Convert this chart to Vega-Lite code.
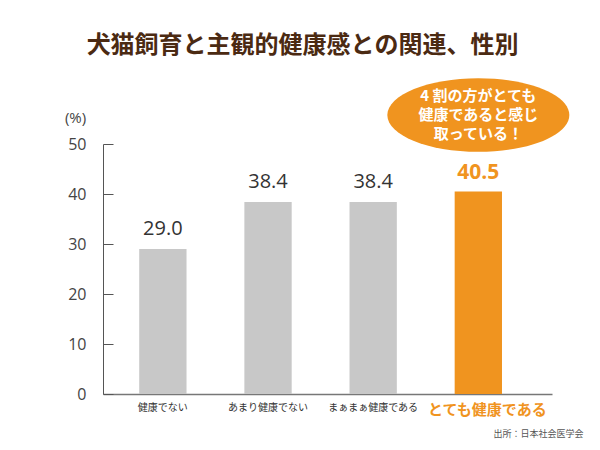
{
  "$schema": "https://vega.github.io/schema/vega-lite/v6.json",
  "width": 449,
  "height": 250,
  "autosize": "none",
  "padding": {"left": 103, "top": 144, "right": 48, "bottom": 56},
  "background": "white",
  "config": {
    "view": {"stroke": null},
    "font": "Noto Sans CJK JP"
  },
  "title": {
    "text": "犬猫飼育と主観的健康感との関連、性別",
    "color": "#4b2a12",
    "fontSize": 24,
    "fontWeight": "bold",
    "font": "Noto Sans CJK JP",
    "anchor": "middle",
    "dx": -25,
    "offset": 20
  },
  "datasets": {
    "bars": [
      {"cat": "健康でない", "value": 29.0, "label": "29.0", "hl": false},
      {"cat": "あまり健康でない", "value": 38.4, "label": "38.4", "hl": false},
      {"cat": "まぁまぁ健康である", "value": 38.4, "label": "38.4", "hl": false},
      {"cat": "とても健康である", "value": 40.5, "label": "40.5", "hl": true}
    ],
    "note": [
      {"cat": "とても健康である", "y": 55.8, "text": "4 割の方がとても\n健康であると感じ\n取っている！"}
    ]
  },
  "encoding": {
    "x": {
      "field": "cat",
      "type": "nominal",
      "sort": null,
      "scale": {"paddingInner": 0.55, "paddingOuter": 0.41, "align": 0.42},
      "axis": {
        "title": "出所：日本社会医学会",
        "titleX": 480,
        "titleY": 39,
        "titleAlign": "right",
        "titleBaseline": "middle",
        "titleFontSize": 9,
        "titleFontWeight": "normal",
        "titleColor": "#555",
        "labelAngle": 0,
        "labelPadding": 8,
        "labelColor": {"condition": {"test": "datum.value === 'とても健康である'", "value": "#f0941f"}, "value": "#333"},
        "labelFontSize": {"condition": {"test": "datum.value === 'とても健康である'", "value": 15}, "value": 10},
        "labelFontWeight": {"condition": {"test": "datum.value === 'とても健康である'", "value": "bold"}, "value": "normal"},
        "labelOffset": {"condition": {"test": "datum.value === 'とても健康である'", "value": 9}, "value": 0},
        "ticks": false,
        "domainColor": "#777",
        "domainWidth": 1.5
      }
    }
  },
  "layer": [
    {
      "data": {"name": "bars"},
      "mark": {"type": "bar"},
      "encoding": {
        "y": {
          "field": "value",
          "type": "quantitative",
          "scale": {"domain": [0, 50]},
          "axis": {
            "title": "(%)",
            "titleAngle": 0,
            "titleX": -28,
            "titleY": -27,
            "titleAlign": "center",
            "titleBaseline": "middle",
            "titleFontSize": 15,
            "titleFontWeight": "normal",
            "titleColor": "#444",
            "titleFont": "Open Sans",
            "values": [0, 10, 20, 30, 40, 50],
            "grid": false,
            "tickSize": -10,
            "tickColor": "#555",
            "domainColor": "#555",
            "labelFont": "Open Sans",
            "labelFontSize": 16,
            "labelColor": "#444",
            "labelPadding": 27
          }
        },
        "color": {
          "field": "hl",
          "type": "nominal",
          "scale": {"domain": [false, true], "range": ["#c8c8c8", "#f0941f"]},
          "legend": null
        }
      }
    },
    {
      "data": {"name": "bars"},
      "transform": [{"filter": "!datum.hl"}],
      "mark": {"type": "text", "baseline": "bottom", "dy": -10, "font": "Open Sans", "fontSize": 20, "color": "#333"},
      "encoding": {
        "y": {"field": "value", "type": "quantitative"},
        "text": {"field": "label"}
      }
    },
    {
      "data": {"name": "bars"},
      "transform": [{"filter": "datum.hl"}],
      "mark": {"type": "text", "baseline": "bottom", "dy": -9, "font": "Open Sans", "fontSize": 21, "fontWeight": "bold", "color": "#f0941f"},
      "encoding": {
        "y": {"field": "value", "type": "quantitative"},
        "text": {"field": "label"}
      }
    },
    {
      "data": {"name": "note"},
      "mark": {
        "type": "point",
        "filled": true,
        "opacity": 1,
        "shape": "M-1,0A1,0.405 0 1,0 1,0A1,0.405 0 1,0 -1,0Z",
        "size": 33124,
        "color": "#f0941f"
      },
      "encoding": {
        "y": {"field": "y", "type": "quantitative"}
      }
    },
    {
      "data": {"name": "note"},
      "mark": {
        "type": "text",
        "lineBreak": "\n",
        "lineHeight": 19,
        "fontSize": 15,
        "fontWeight": "bold",
        "color": "white",
        "baseline": "middle",
        "dy": -19
      },
      "encoding": {
        "y": {"field": "y", "type": "quantitative"},
        "text": {"field": "text"}
      }
    }
  ]
}
